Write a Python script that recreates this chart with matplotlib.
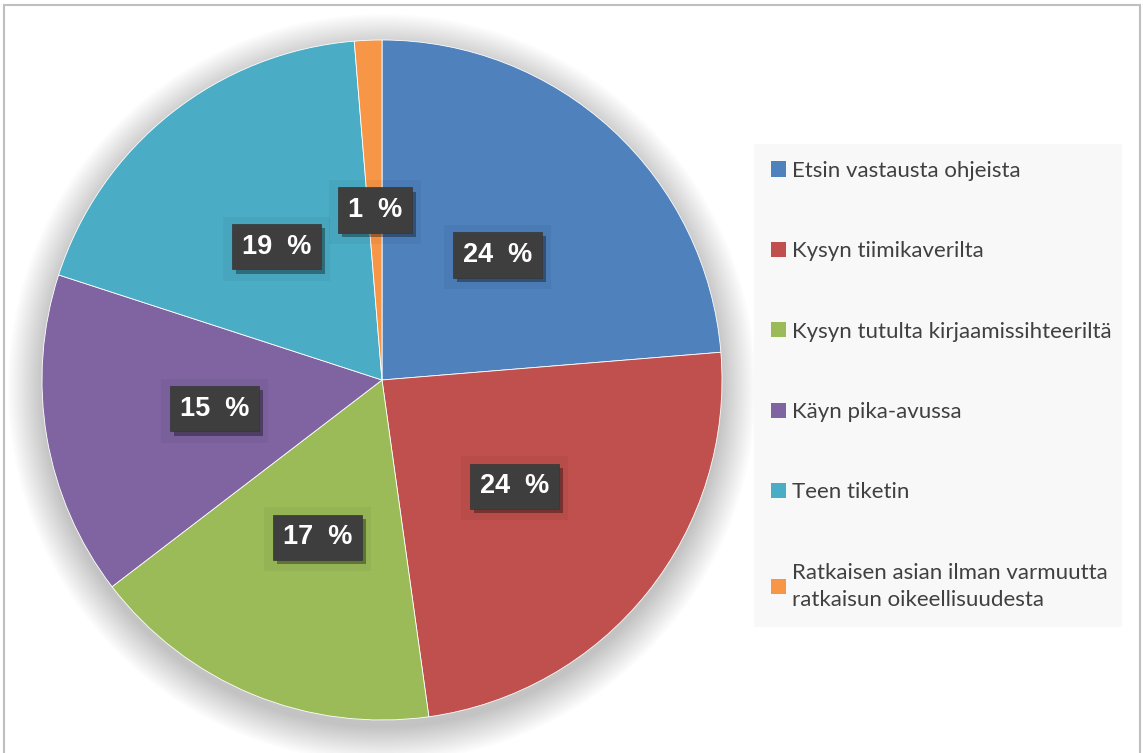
import matplotlib
matplotlib.use("Agg")
import matplotlib.pyplot as plt
from matplotlib.patches import Circle, Rectangle, Patch
import matplotlib.patheffects as pe
import numpy as np

W, H = 1143, 753

# data (shares of answers, %)
labels = ['Etsin vastausta ohjeista', 'Kysyn tiimikaverilta',
          'Kysyn tutulta kirjaamissihteeriltä', 'Käyn pika-avussa',
          'Teen tiketin',
          'Ratkaisen asian ilman varmuutta\nratkaisun oikeellisuudesta']
values = [23.7, 24.1, 16.8, 15.4, 18.7, 1.3]
colors = ['#4F81BD', '#C0504D', '#9BBB59', '#8064A2', '#4BACC6', '#F79646']

TXT = '#404040'
CX, CY, R = 382, H - 380, 340

fig = plt.figure(figsize=(W / 100, H / 100), dpi=100)
fig.patch.set_facecolor('white')
ax = fig.add_axes([0, 0, 1, 1])

# soft shadow under the pie
for r in np.linspace(374, R, 20):
    ax.add_patch(Circle((CX, CY - 8), r, color='black', alpha=0.013,
                        lw=0, zorder=0))

LBL = dict(fontsize=19.5, fontweight='bold', family='Liberation Sans')
wedges, _, autotexts = ax.pie(
    values, colors=colors, startangle=90, counterclock=False,
    center=(CX, CY), radius=R, explode=[0.012, 0, 0, 0, 0, 0],
    autopct=lambda p: f'{p:.0f}  %', pctdistance=0.5,
    wedgeprops=dict(edgecolor='white', linewidth=0.6),
    textprops=dict(color='white', **LBL))

for t in autotexts:
    x, y = t.get_position()
    # faint square around each label
    ax.text(x, y - 2, t.get_text(), color='none', ha='center', va='center',
            bbox=dict(boxstyle='square,pad=0.7', facecolor='black',
                      alpha=0.04, edgecolor='none'), zorder=3, **LBL)
    t.set_zorder(5)
    t.set_bbox(dict(boxstyle='square,pad=0.36', facecolor='#3e3e3e',
                    edgecolor='#363636', linewidth=0.5))
    t.get_bbox_patch().set_path_effects(
        [pe.SimplePatchShadow(offset=(3, -3), shadow_rgbFace='black', alpha=0.35),
         pe.Normal()])

ax.set_xlim(0, W)
ax.set_ylim(0, H)
ax.set_aspect('equal')
ax.axis('off')

# outer frame
ax.add_patch(Rectangle((4, -10), 1136, H - 5 + 10, fill=False,
                       edgecolor='#bfbfbf', linewidth=1.5, zorder=10,
                       clip_on=False))

handles = [Patch(facecolor=c, edgecolor='none') for c in colors]
leg = fig.legend(handles, labels, loc='upper left',
                 bbox_to_anchor=(754 / W, 1 - 144 / H, 368 / W, 0.0),
                 mode='expand', borderaxespad=0, frameon=True,
                 prop=dict(family='Lato', size=16), labelcolor=TXT,
                 handlelength=0.68, handleheight=0.68, handletextpad=0.28,
                 labelspacing=2.72, borderpad=0.75, fancybox=False)
leg.get_frame().set_facecolor('#f7f7f7')
leg.get_frame().set_edgecolor('none')
leg.get_texts()[-1].set_linespacing(1.45)

fig.savefig('out.png', dpi=100, facecolor='white')
